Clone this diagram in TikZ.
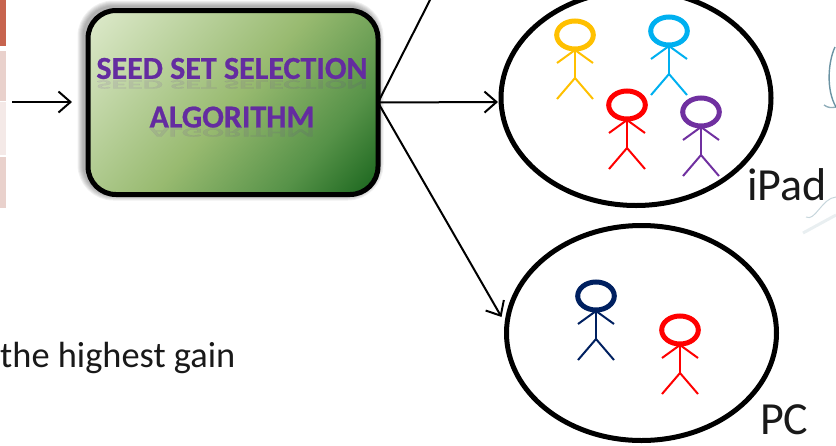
\documentclass[tikz,border=0pt]{standalone}
\usepackage{fontspec}
\setmainfont{Carlito}
\newfontfamily\algofont[BoldFeatures={FakeBold=0.7}]{Carlito}
\usetikzlibrary{arrows.meta,positioning,shapes.geometric}
\definecolor{algopurple}{RGB}{100,44,160}
\definecolor{seedlight}{RGB}{222,234,204}
\definecolor{seedmid}{RGB}{152,186,112}
\definecolor{seedlow}{RGB}{86,146,72}
\definecolor{seeddark}{RGB}{24,100,28}
\definecolor{personyellow}{RGB}{255,192,0}
\definecolor{personcyan}{RGB}{0,176,240}
\definecolor{personpurple}{RGB}{112,48,160}
\definecolor{personnavy}{RGB}{0,32,96}
\definecolor{faintline}{RGB}{70,120,140}
\pgfdeclareverticalshading{seedfill}{100bp}{color(0bp)=(seeddark); color(15bp)=(seeddark); color(30bp)=(seedlow); color(50bp)=(seedmid); color(85bp)=(seedlight); color(100bp)=(seedlight)}
\tikzset{
	flow/.style={draw=black,line width=2pt,-{Straight Barb[length=12pt,width=21pt,line width=2pt]}},
	algobox/.style={draw=black,line width=5pt,rounded corners=28pt,minimum width=290pt,minimum height=184pt,outer sep=0pt,
		shading=seedfill,shading angle=49},
	algotext/.style={text=algopurple,font=\fontsize{32}{32}\selectfont\algofont\bfseries,inner sep=0pt},
	algoglow/.style={algotext,opacity=.11,yscale=-.4},
	setshape/.style={draw=black,line width=5pt,shape=ellipse,minimum width=270pt,minimum height=215pt,inner sep=0pt,outer sep=0pt},
	setname/.style={font=\fontsize{46}{46}\selectfont,text=black!90,inner sep=0pt,anchor=base west},
	tablecell/.style={inner sep=0pt,minimum width=6pt,outer sep=0pt,anchor=north west}
}
% one person: head at (x,y), colour
\newcommand{\stickperson}[3]{
	\draw[#3,line width=5pt] (#1,#2) ellipse (18.3pt and 14pt);
	\draw[#3,line width=2pt] (#1,#2+15) -- (#1,#2+43);
	\draw[#3,line width=2pt] (#1-18,#2+28) -- (#1,#2+15) -- (#1+18,#2+28);
	\draw[#3,line width=2pt] (#1-18,#2+64) -- (#1,#2+43) -- (#1+18,#2+64);
}
\begin{document}
\begin{tikzpicture}[x=1pt,y=-1pt]
	\useasboundingbox (0,0) rectangle (836,445);
	% table left behind
	\node[tablecell,fill={rgb,255:red,199;green,100;blue,78},minimum height=46pt] (rowa) at (0,0) {};
	\node[tablecell,fill={rgb,255:red,233;green,209;blue,204},minimum height=50pt] (rowb) at (0,51) {};
	\node[tablecell,fill={rgb,255:red,244;green,233;blue,231},minimum height=53pt] (rowc) at (0,102) {};
	\node[tablecell,fill={rgb,255:red,233;green,209;blue,204},minimum height=51pt] (rowd) at (0,157) {};
	% faint sketch on the right
	\draw[faintline,line width=1.4pt,opacity=.8] (835,47) .. controls (828,62) and (826,90) .. (836,107);
	\draw[faintline,line width=1.4pt,opacity=.6] (824,105) .. controls (828,108) and (832,108) .. (836,107);
	\draw[faintline,line width=1pt,opacity=.3] (806,217) .. controls (815,222) and (822,198) .. (836,197);
	\draw[faintline,line width=3pt,opacity=.12] (803,233) -- (836,215);
	% soft shadow of the box
	\foreach \w in {6,8,...,16}
		\draw[black,line width=\w pt,opacity=.06,rounded corners=28pt] (85.5,8.5) rectangle (375.5,192.5);
	\node[algobox] (algo) at (233,102.5) {};
	\node[algotext] (seedline) at (232,68.5) {SEED SET SELECTION};
	\node[algotext,below=27pt of seedline] (algoline) {ALGORITHM};
	\node[algoglow] (seedglow) at (232,84.5) {SEED SET SELECTION};
	\node[algoglow] (algoglowline) at (232,132.5) {ALGORITHM};
	% the two sets
	\node[setshape] (ipadset) at (636,98) {};
	\node[setshape] (pcset) at (641.5,333) {};
	\node[setname] (ipadname) at (747,200) {iPad};
	\node[setname] (pcname) at (760,434) {PC};
	\node[font=\fontsize{36.4}{36}\selectfont,text=black!90,inner sep=0pt,anchor=base west] (gain) at (0,367) {the highest gain};
	\stickperson{575}{35}{personyellow}
	\stickperson{669}{31}{personcyan}
	\stickperson{627}{105}{red}
	\stickperson{701}{112}{personpurple}
	\stickperson{596}{296}{personnavy}
	\stickperson{680}{330}{red}
	% connectors
	\coordinate (inlet) at (12,102);
	\coordinate (boxin) at (72,102);
	\coordinate (topend) at (431,-2);
	\coordinate (ipadin) at (498,102);
	\coordinate (pcin) at (501.5,317);
	\draw[flow] (inlet) -- (boxin);
	\draw[black,line width=2pt] (algo.east) -- (topend);
	\draw[flow] (algo.east) -- (ipadin);
	\draw[flow] (algo.east) -- (pcin);
\end{tikzpicture}
\end{document}
